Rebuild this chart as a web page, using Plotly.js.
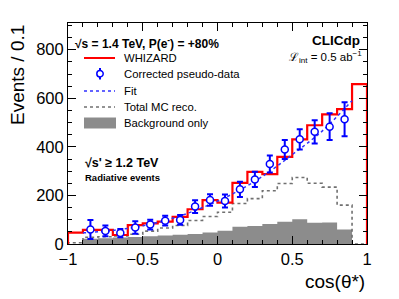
<!DOCTYPE html>
<html>
<head>
<meta charset="utf-8">
<script src="https://cdn.plot.ly/plotly-3.0.1.min.js"></script>
<style>html,body{margin:0;padding:0;background:#fff;}#chart{width:399px;height:299px;}</style>
</head>
<body>
<div id="chart"></div>
<script>
// ---- data ----
const binCenters = [-0.95,-0.85,-0.75,-0.65,-0.55,-0.45,-0.35,-0.25,-0.15,-0.05,0.05,0.15,0.25,0.35,0.45,0.55,0.65,0.75,0.85,0.95];
const binWidth = 0.1;
const whizard    = [47,58,58,37,78,85,92,112,143,181,170,252,297,288,359,431,489,534,555,658];
const totalMC    = [5,28,30,33,40,53,66,76,97,113,131,167,187,219,249,274,250,234,160,0];
const background = [0,22,24,27,29,32,35,38,41,47,55,71,74,82,92,102,87,89,60,0];
const dataX   = [-0.85,-0.75,-0.65,-0.55,-0.45,-0.35,-0.25,-0.15,-0.05,0.05,0.15,0.25,0.35,0.45,0.55,0.65,0.75,0.85];
const dataY   = [60,54,45,68,80,96,99,154,181,177,225,266,329,389,431,462,483,514];
const dataErr = [39,22,17,26,20,20,20,26,24,27,31,31,35,39,42,48,55,70];
const fitX = [-0.9,-0.7,-0.5,-0.3,-0.1,0.1,0.3,0.5,0.7,0.9];
const fitY = [46,56,75,106,150,206,278,368,465,590];
const xTickVals = [-1,-0.5,0,0.5,1];
const xTickLabels = ['\u22121','\u22120.5','0','0.5','1'];

// ---- helpers ----
function stepXY(vals){
  const x=[], y=[];
  const lo = binCenters[0]-binWidth/2;
  const hi = binCenters[binCenters.length-1]+binWidth/2;
  x.push(lo); y.push(0);
  for(let i=0;i<vals.length;i++){ x.push(binCenters[i]-binWidth/2); y.push(vals[i]); }
  x.push(hi); y.push(vals[vals.length-1]);
  x.push(hi); y.push(0);
  return {x:x,y:y};
}
const FONT = 'Liberation Sans, Arial, Helvetica, sans-serif';
const L=68, R=367, T=23, B=244;
const W=399, H=299;
function px(v){ return (v-L)/(R-L); }
function py(v){ return (B-v)/(B-T); }

const bg = stepXY(background), mc = stepXY(totalMC), wz = stepXY(whizard);

const traces = [
  {x:bg.x, y:bg.y, type:'scatter', mode:'lines', line:{shape:'hv', width:0, color:'#8c8c8c'}, fill:'tozeroy', fillcolor:'#8c8c8c', hoverinfo:'skip', showlegend:false},
  {x:mc.x, y:mc.y, type:'scatter', mode:'lines', line:{shape:'hv', width:1.6, color:'#707070', dash:'dot'}, showlegend:false},
  {x:wz.x, y:wz.y, type:'scatter', mode:'lines', line:{shape:'hv', width:2.2, color:'#ff0000'}, showlegend:false},
  {x:fitX, y:fitY, type:'scatter', mode:'lines', line:{shape:'spline', width:1.5, color:'#3030ff', dash:'dot'}, showlegend:false},
  {x:dataX, y:dataY, type:'scatter', mode:'markers',
   marker:{symbol:'circle', size:7, color:'#ffffff', line:{color:'#0000ff', width:1.5}},
   error_y:{type:'data', array:dataErr, visible:true, color:'#0000ff', thickness:2, width:3},
   showlegend:false}
];

function ann(text, x, y, opts){
  return Object.assign({text:text, xref:'paper', yref:'paper', x:px(x), y:py(y), showarrow:false,
    xanchor:'left', yanchor:'middle', font:{family:FONT, size:11.3, color:'#000'}}, opts||{});
}

const annotations = [
  ann('Events / 0.1', 17, T, {textangle:-90, xanchor:'center', yanchor:'top', font:{family:FONT,size:19,color:'#000'}}),
  ann('cos(\u03b8*)', R, 281, {xanchor:'right', font:{family:FONT,size:19,color:'#000'}}),
  ann('<b>\u221as = 1.4 TeV, P(e<sup>-</sup>) = +80%</b>', 73, 42.5, {font:{family:FONT,size:12,color:'#000'}}),
  ann('WHIZARD', 122, 58),
  ann('Corrected pseudo-data', 122, 74),
  ann('Fit', 122, 91),
  ann('Total MC reco.', 122, 107),
  ann('Background only', 122, 123),
  ann('<b>CLICdp</b>', 362, 40.5, {xanchor:'right', font:{family:FONT,size:13.5,color:'#000'}}),
  ann('\u2112<sub>int</sub> = 0.5 ab<sup>\u22121</sup>', 364, 57, {xanchor:'right', font:{family:FONT,size:11.5,color:'#000'}}),
  ann('<b>\u221as\' \u2265 1.2 TeV</b>', 83, 163, {font:{family:FONT,size:12.5,color:'#000'}}),
  ann('<b>Radiative events</b>', 83, 177.5, {font:{family:FONT,size:9.5,color:'#000'}})
];

const shapes = [
  {type:'line', xref:'paper', yref:'paper', x0:px(84), x1:px(115), y0:py(58), y1:py(58), line:{color:'#ff0000', width:2}},
  {type:'line', xref:'paper', yref:'paper', x0:px(100), x1:px(100), y0:py(68), y1:py(79.5), line:{color:'#0000ff', width:2}},
  {type:'circle', xref:'paper', yref:'paper', x0:px(96.8), x1:px(103.2), y0:py(70.6), y1:py(77), line:{color:'#0000ff', width:1.5}, fillcolor:'#ffffff'},
  {type:'line', xref:'paper', yref:'paper', x0:px(84), x1:px(115), y0:py(91), y1:py(91), line:{color:'#3030ff', width:1.5, dash:'dot'}},
  {type:'line', xref:'paper', yref:'paper', x0:px(84), x1:px(115), y0:py(107), y1:py(107), line:{color:'#707070', width:1.6, dash:'dot'}},
  {type:'rect', xref:'paper', yref:'paper', x0:px(84), x1:px(116), y0:py(117.5), y1:py(128.5), line:{width:0}, fillcolor:'#8c8c8c'}
];

const axisCommon = {
  showline:true, linecolor:'#000', linewidth:1, mirror:'ticks',
  ticks:'inside', ticklen:8, tickwidth:1, tickcolor:'#000',
  showgrid:false, zeroline:false,
  tickfont:{family:FONT, size:16.5, color:'#000'}
};

const layout = {
  width:W, height:H,
  margin:{l:L, r:W-R, t:T, b:H-B, pad:0},
  paper_bgcolor:'#fff', plot_bgcolor:'#fff',
  showlegend:false,
  xaxis:Object.assign({}, axisCommon, {range:[-1,1], tickmode:'array', tickvals:xTickVals, ticktext:xTickLabels,
     minor:{tickmode:'linear', tick0:-1, dtick:0.1, ticks:'inside', ticklen:4, tickcolor:'#000', tickwidth:1}}),
  yaxis:Object.assign({}, axisCommon, {range:[0,910], tickmode:'linear', tick0:0, dtick:200,
     minor:{tickmode:'linear', tick0:0, dtick:50, ticks:'inside', ticklen:4, tickcolor:'#000', tickwidth:1}}),
  annotations:annotations,
  shapes:shapes
};

Plotly.newPlot('chart', traces, layout, {staticPlot:true, displayModeBar:false});
</script>
</body>
</html>
